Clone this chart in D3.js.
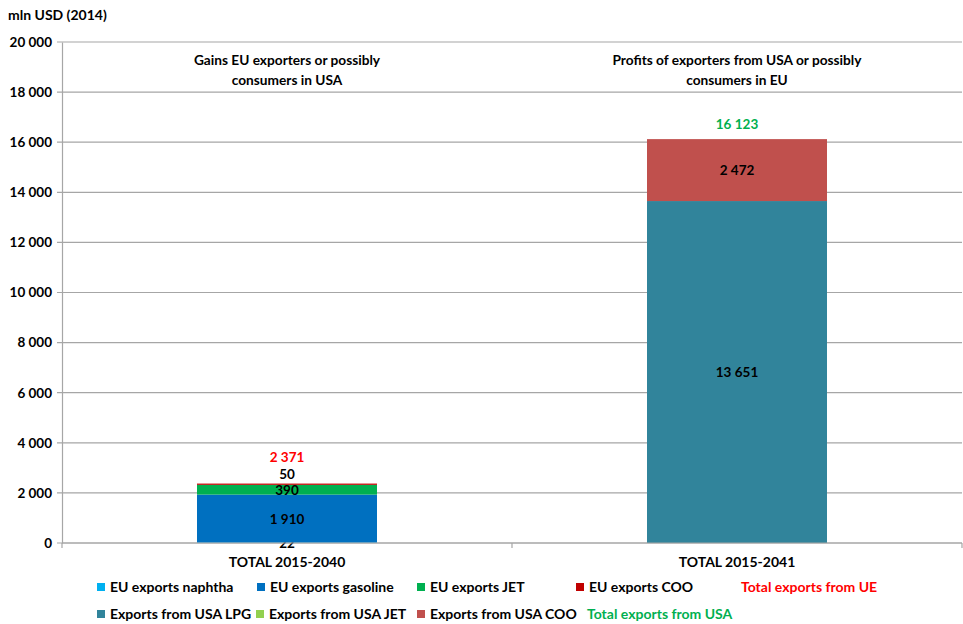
<!DOCTYPE html>
<html>
<head>
<meta charset="utf-8">
<script src="https://cdn.jsdelivr.net/npm/d3@7"></script>
<style>
  body { margin: 0; background: #fff; }
  text { font-family: Lato, "Open Sans", sans-serif; font-weight: bold; }
</style>
</head>
<body>
<svg id="chart" width="963" height="624"></svg>
<script>
// categories and values (mln USD 2014)
const categories = ['TOTAL 2015-2040', 'TOTAL 2015-2041'];
const headers = [
    ['Gains EU exporters or possibly', 'consumers in USA'],
    ['Profits of exporters from USA or possibly', 'consumers in EU']
];
const seriesNames = ['EU exports naphtha', 'EU exports gasoline', 'EU exports JET', 'EU exports COO',
    'Exports from USA LPG', 'Exports from USA JET', 'Exports from USA COO'];
const seriesColors = ['#00b0f0', '#0070c0', '#00b050', '#c00000', '#31849b', '#92d050', '#c0504d'];
const naphtha = [22, 0];
const gasoline = [1910, 0];
const jetEU = [390, 0];
const cooEU = [50, 0];
const lpgUSA = [0, 13651];
const jetUSA = [0, 0];
const cooUSA = [0, 2472];
const totals = [2371, 16123];
const totalNames = ['Total exports from UE', 'Total exports from USA'];
const totalColors = ['#ff0000', '#00b050'];
const yTicks = [0, 2000, 4000, 6000, 8000, 10000, 12000, 14000, 16000, 18000, 20000];

const seriesValues = [naphtha, gasoline, jetEU, cooEU, lpgUSA, jetUSA, cooUSA];

const svg = d3.select('#chart');
const plotL = 62, plotR = 962, plotT = 42, plotB = 543;

const x = d3.scaleBand().domain(categories).range([plotL, plotR]);
const y = d3.scaleLinear().domain([0, 20000]).range([plotB, plotT]);
const fmt = v => d3.format(',')(v).replace(/,/g, ' ');

// gridlines
svg.append('g')
    .selectAll('line')
    .data(yTicks)
    .join('line')
    .attr('x1', plotL - 5).attr('x2', plotR)
    .attr('y1', d => y(d)).attr('y2', d => y(d))
    .attr('stroke', '#a6a6a6').attr('stroke-width', 1.2);

// y axis
const yAxis = d3.axisLeft(y).tickValues(yTicks).tickSize(0).tickPadding(10).tickFormat(fmt);
const gy = svg.append('g').attr('transform', 'translate(' + plotL + ',0)').call(yAxis);
gy.select('.domain').attr('stroke', '#a6a6a6').attr('stroke-width', 1.2);
gy.selectAll('text').attr('font-size', 13.5).attr('fill', '#000').attr('font-family', null);

// stacked bars
const barW = x.bandwidth() * 0.4;
categories.forEach((c, i) => {
    let base = 0;
    let lastLabel = Infinity;
    const cx = x(c) + x.bandwidth() / 2;
    seriesValues.forEach((vals, s) => {
        const v = vals[i];
        if (v <= 0) return;
        svg.append('rect')
            .attr('x', cx - barW / 2)
            .attr('width', barW)
            .attr('y', y(base + v))
            .attr('height', y(base) - y(base + v))
            .attr('fill', seriesColors[s]);
        // keep small-segment labels from sitting on top of each other
        const ly = Math.min(y(base + v / 2) + 5, lastLabel - 16);
        svg.append('text')
            .attr('x', cx)
            .attr('y', ly)
            .attr('text-anchor', 'middle')
            .attr('font-size', 13.5)
            .text(fmt(v));
        lastLabel = ly;
        base += v;
    });
    // total label
    svg.append('text')
        .attr('x', cx)
        .attr('y', Math.min(y(base) - 10, lastLabel - 17))
        .attr('text-anchor', 'middle')
        .attr('font-size', 13.5)
        .attr('fill', totalColors[i])
        .text(fmt(totals[i]));
    // header
    headers[i].forEach((line, k) => {
        svg.append('text')
            .attr('x', cx)
            .attr('y', 65 + k * 20)
            .attr('text-anchor', 'middle')
            .attr('font-size', 13.7)
            .text(line);
    });
});

// x axis
svg.append('line')
    .attr('x1', plotL).attr('x2', plotR)
    .attr('y1', plotB).attr('y2', plotB)
    .attr('stroke', '#a6a6a6').attr('stroke-width', 1.2);
svg.append('g')
    .selectAll('line')
    .data([plotL, x(categories[1]), plotR])
    .join('line')
    .attr('x1', d => d).attr('x2', d => d)
    .attr('y1', plotB).attr('y2', plotB + 5)
    .attr('stroke', '#a6a6a6').attr('stroke-width', 1.2);
svg.append('g')
    .selectAll('text')
    .data(categories)
    .join('text')
    .attr('x', d => x(d) + x.bandwidth() / 2)
    .attr('y', 567)
    .attr('text-anchor', 'middle')
    .attr('font-size', 14)
    .text(d => d);

// y title
svg.append('text').attr('x', 8).attr('y', 20).attr('font-size', 14).text('mln USD (2014)');

// legend
const legendRows = [
    {y: 592, items: [0, 1, 2, 3], xs: [97, 257, 417, 576], total: 0, tx: 741},
    {y: 619, items: [4, 5, 6], xs: [97, 256, 417], total: 1, tx: 587}
];
legendRows.forEach(row => {
    row.items.forEach((s, k) => {
        svg.append('rect')
            .attr('x', row.xs[k]).attr('y', row.y - 9)
            .attr('width', 8).attr('height', 8)
            .attr('fill', seriesColors[s]);
        svg.append('text')
            .attr('x', row.xs[k] + 13).attr('y', row.y)
            .attr('font-size', 14)
            .text(seriesNames[s]);
    });
    svg.append('text')
        .attr('x', row.tx).attr('y', row.y)
        .attr('font-size', 14)
        .attr('fill', totalColors[row.total])
        .text(totalNames[row.total]);
});
</script>
</body>
</html>
